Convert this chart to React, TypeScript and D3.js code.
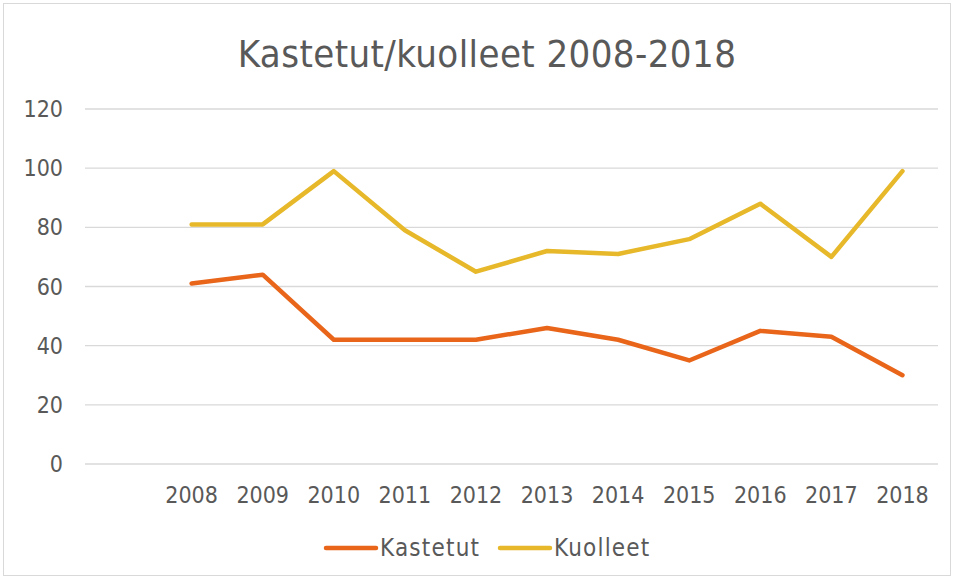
import React from "react";
import * as d3 from "d3";

const categories = ["", "2008", "2009", "2010", "2011", "2012", "2013", "2014", "2015", "2016", "2017", "2018"];
const kastetut = [null, 61, 64, 42, 42, 42, 46, 42, 35, 45, 43, 30];
const kuolleet = [null, 81, 81, 99, 79, 65, 72, 71, 76, 88, 70, 99];
const yTicks = [0, 20, 40, 60, 80, 100, 120];
const seriesNames = ["Kastetut", "Kuolleet"];
const colors = ["#E8651A", "#E6B82A"];

const W = 954, H = 578;
const left = 85, right = 938, top = 109, bottom = 464;
const FONT = "'Liberation Sans Narrow', 'DejaVu Sans Condensed', 'Liberation Sans', sans-serif";

export default function App() {
  const x = d3.scaleBand().domain(categories.map((c, i) => String(i))).range([left, right]).padding(0);
  const y = d3.scaleLinear().domain([0, 120]).range([bottom, top]);
  const cx = (i: number) => (x(String(i)) as number) + x.bandwidth() / 2;
  const line = d3
    .line<number | null>()
    .defined((d) => d !== null)
    .x((_, i) => cx(i))
    .y((d) => y(d as number));
  const series = [kastetut, kuolleet];
  const legendX = [326, 500];
  return (
    <svg width={W} height={H} style={{ position: "absolute", left: 0, top: 0, display: "block" }}>
      <rect x={0} y={0} width={W} height={H} fill="#fff" />
      <rect x={3.5} y={3.5} width={W - 7} height={H - 6} fill="none" stroke="#d9d9d9" strokeWidth={1} />
      <text x={487} y={67} textAnchor="middle" fontFamily={FONT} fontSize={38} letterSpacing={0.4} fill="#595959">
        Kastetut/kuolleet 2008-2018
      </text>
      {yTicks.map((t) => (
        <g key={t}>
          <line x1={left} x2={right} y1={y(t)} y2={y(t)} stroke="#d9d9d9" strokeWidth={1.3} />
          <text x={63} y={y(t)} dy="0.35em" textAnchor="end" fontFamily={FONT} fontSize={23} fill="#595959">
            {t}
          </text>
        </g>
      ))}
      {categories.map((c, i) => (
        <text key={i} x={cx(i)} y={495} dy="0.35em" textAnchor="middle" fontFamily={FONT} fontSize={23} fill="#595959">
          {c}
        </text>
      ))}
      {series.map((s, k) => (
        <path key={k} d={line(s) || ""} fill="none" stroke={colors[k]} strokeWidth={4.5} strokeLinejoin="round" strokeLinecap="round" />
      ))}
      {seriesNames.map((n, k) => {
        const x0 = legendX[k];
        return (
          <g key={n}>
            <line x1={x0} x2={x0 + 50} y1={548} y2={548} stroke={colors[k]} strokeWidth={4.5} strokeLinecap="round" />
            <text x={x0 + 54} y={548} dy="0.35em" fontFamily={FONT} fontSize={24} letterSpacing={1.2} fill="#595959">
              {n}
            </text>
          </g>
        );
      })}
    </svg>
  );
}
